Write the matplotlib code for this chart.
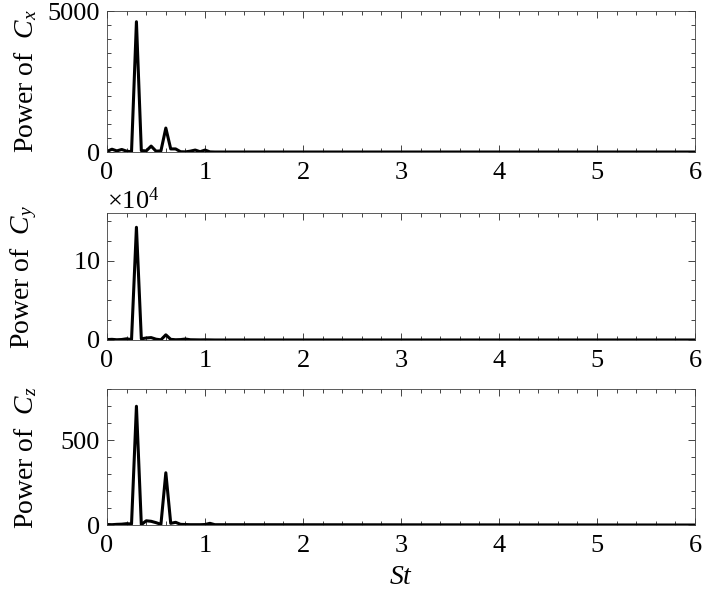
import numpy as np
import matplotlib
matplotlib.use("Agg")
import matplotlib.pyplot as plt
from matplotlib.ticker import MultipleLocator, ScalarFormatter

plt.rcParams["font.family"] = ["Liberation Serif", "DejaVu Serif"]
plt.rcParams["mathtext.fontset"] = "custom"
plt.rcParams["mathtext.rm"] = "Liberation Serif"
plt.rcParams["mathtext.it"] = "Liberation Serif:italic"

# Strouhal number of each spectral sample (flat zero after 1.1 up to 6)
st = [0.0, 0.05, 0.1, 0.15, 0.2, 0.25, 0.3, 0.35, 0.4, 0.45, 0.5, 0.55,
      0.6, 0.65, 0.7, 0.75, 0.8, 0.85, 0.9, 0.95, 1.0, 1.05, 1.1, 6.0]

power_cx = [20, 100, 40, 90, 30, 10, 4620, 50, 40, 210, 30, 40,
            850, 110, 110, 10, 5, 30, 70, 10, 70, 5, 0, 0]
power_cy = [500, 800, 300, 600, 1500, 500, 142000, 1500, 2500, 3000, 1000, 200,
            6500, 800, 300, 500, 1200, 300, 200, 100, 200, 100, 0, 0]
power_cz = [3, 2, 4, 5, 8, 6, 700, 2, 25, 22, 14, 4,
            308, 10, 16, 4, 3, 2, 2, 2, 3, 10, 2, 0]

ylabels = ["Power of  $C_x$", "Power of  $C_y$", "Power of  $C_z$"]
ylims = [5000, 160000, 800]
major = [5000, 100000, 500]
minor = [500, 25000, 100]

fig = plt.figure(figsize=(7.06, 5.95), dpi=100)
boxes = [[0.1516, 0.7445, 0.8328, 0.2370],
         [0.1516, 0.4286, 0.8328, 0.2134],
         [0.1516, 0.1176, 0.8328, 0.2281]]

for i, (vals, lab) in enumerate(zip([power_cx, power_cy, power_cz], ylabels)):
    ax = fig.add_axes(boxes[i])
    ax.plot(st, vals, color="black", lw=2.2)
    ax.set_xlim(0, 6)
    ax.set_ylim(0, ylims[i])
    ax.xaxis.set_major_locator(MultipleLocator(1))
    ax.xaxis.set_minor_locator(MultipleLocator(0.2))
    ax.yaxis.set_major_locator(MultipleLocator(major[i]))
    ax.yaxis.set_minor_locator(MultipleLocator(minor[i]))
    ax.tick_params(which="both", direction="in", top=True, right=True,
                   labelsize=19, color="#262626", width=0.6)
    ax.tick_params(which="major", length=5, pad=5)
    ax.tick_params(axis="x", which="major", pad=7)
    ax.tick_params(which="minor", length=3)
    for s in ax.spines.values():
        s.set_color("#404040")
        s.set_linewidth(0.6)
    ax.set_ylabel(lab, fontsize=20)
    ax.yaxis.set_label_coords(-0.115, 0.5)
    if i == 1:
        fmt = ScalarFormatter(useMathText=True)
        fmt.set_powerlimits((4, 4))
        ax.yaxis.set_major_formatter(fmt)
        ax.yaxis.get_offset_text().set_fontsize(19)
        ax.yaxis.get_offset_text().set_y(0.98)
    if i == 2:
        ax.set_xlabel("$St$", fontsize=20, labelpad=6)

fig.savefig("out.png", dpi=100)
